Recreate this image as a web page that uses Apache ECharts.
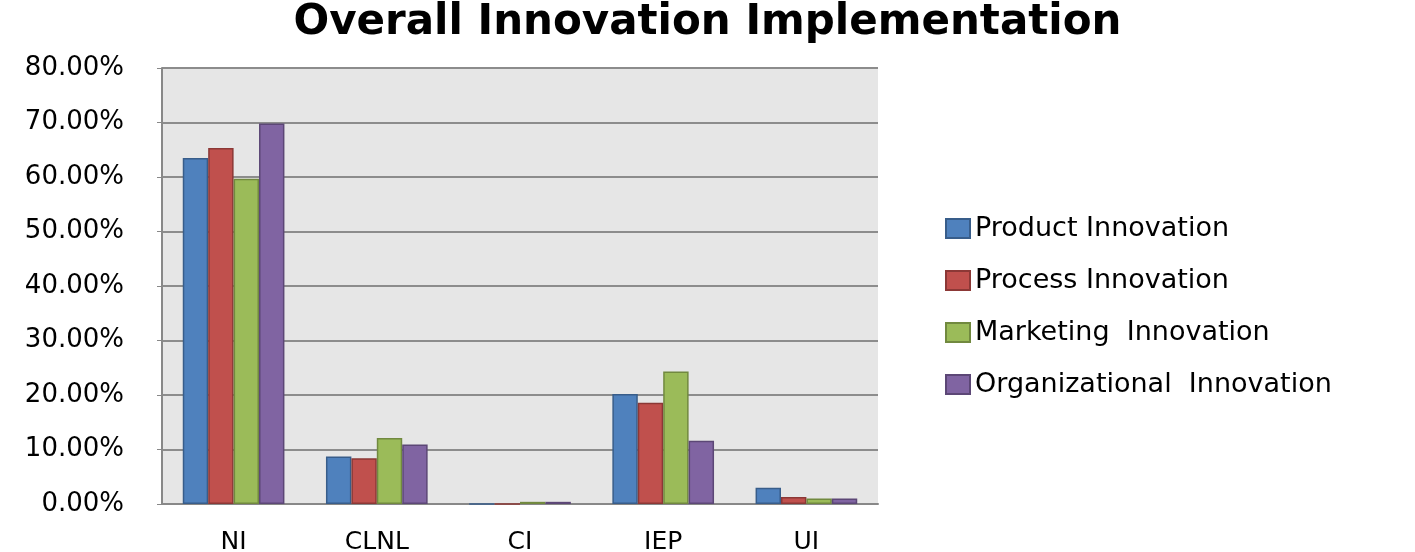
<!DOCTYPE html>
<html><head><meta charset="utf-8">
<script src="https://cdn.jsdelivr.net/npm/echarts@6/dist/echarts.min.js"></script>
<style>html,body{margin:0;padding:0;background:#fff}#c{width:1415px;height:552px}</style>
</head><body><div id="c"></div>
<script>
const categories = ['NI', 'CLNL', 'CI', 'IEP', 'UI'];
const seriesNames = ['Product Innovation', 'Process Innovation', 'Marketing  Innovation', 'Organizational  Innovation'];
const productInnovation = [63.5, 8.7, 0, 20.2, 3.0];
const processInnovation = [65.3, 8.4, 0, 18.6, 1.3];
const marketingInnovation = [59.7, 12.1, 0.4, 24.3, 1.0];
const organizationalInnovation = [69.8, 10.9, 0.4, 11.6, 1.0];
const yTicks = [0, 10, 20, 30, 40, 50, 60, 70, 80];

const colors = ['#4F81BD', '#C0504D', '#9BBB59', '#8064A2'];
const borders = ['#385D8A', '#8C3836', '#71893F', '#5C4776'];
const values = [productInnovation, processInnovation, marketingInnovation, organizationalInnovation];
const font = 'DejaVu Sans';

const chart = echarts.init(document.getElementById('c'));
chart.setOption({
  animation: false,
  backgroundColor: '#fff',
  title: {
    text: 'Overall Innovation Implementation',
    left: 'center', top: -3,
    textStyle: { fontFamily: font, fontWeight: 'bold', fontSize: 42, color: '#000' }
  },
  legend: {
    orient: 'vertical', left: 940, top: 210,
    itemWidth: 24, itemHeight: 19, itemGap: 25,
    icon: 'rect',
    textStyle: { fontFamily: font, fontSize: 27, color: '#000' },
    data: seriesNames
  },
  grid: {
    left: 162, right: 537, top: 68, bottom: 48,
    show: true, backgroundColor: '#E6E6E6', borderWidth: 0,
    containLabel: false, outerBoundsMode: 'none'
  },
  xAxis: {
    type: 'category', data: categories,
    axisLine: { lineStyle: { color: '#888', width: 2 } },
    axisTick: { show: false },
    axisLabel: { fontFamily: font, fontSize: 25, color: '#000', margin: 26 }
  },
  yAxis: {
    type: 'value', min: yTicks[0], max: yTicks[yTicks.length - 1], interval: 10,
    axisLine: { show: true, lineStyle: { color: '#888', width: 2 } },
    axisTick: { show: true, length: 5, lineStyle: { color: '#888' } },
    splitLine: { lineStyle: { color: '#8C8C8C', width: 2 } },
    axisLabel: {
      fontFamily: font, fontSize: 26, color: '#000', margin: 38,
      formatter: v => v.toFixed(2) + '%'
    }
  },
  series: seriesNames.map((n, i) => ({
    name: n, type: 'bar', data: values[i],
    barGap: '0%', barCategoryGap: '29%',
    itemStyle: { color: colors[i], borderColor: borders[i], borderWidth: 1.5 }
  }))
});
</script></body></html>
